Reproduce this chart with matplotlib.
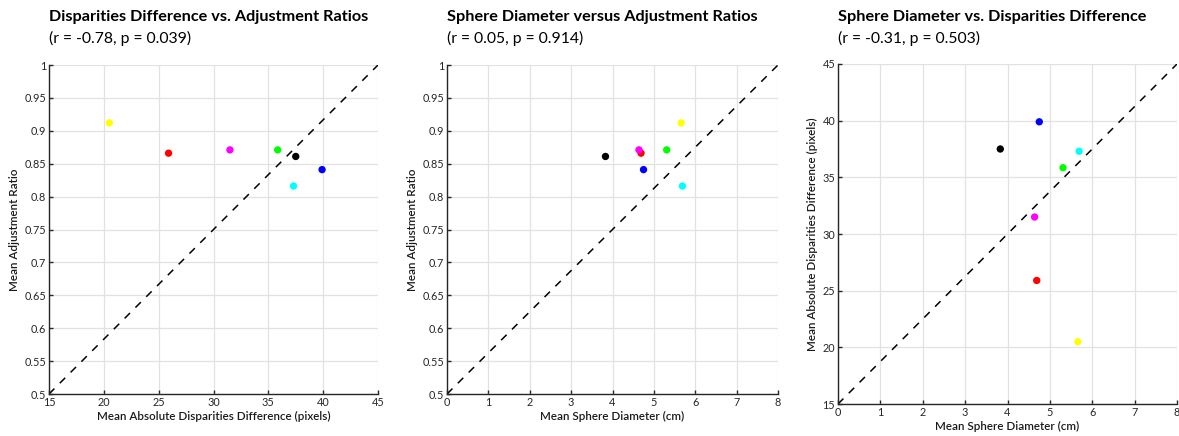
import matplotlib
matplotlib.use("Agg")
import matplotlib.pyplot as plt
from matplotlib import ticker

plt.rcParams['font.family'] = ['Lato', 'DejaVu Sans']

# per-participant colours and values
colors = ["yellow", "red", "magenta", "lime", "black", "cyan", "blue"]
disparity_diff = [20.5, 25.9, 31.5, 35.85, 37.5, 37.3, 39.9]
adjust_ratio = [0.912, 0.866, 0.871, 0.871, 0.861, 0.816, 0.841]
sphere_diam = [5.66, 4.69, 4.64, 5.31, 3.83, 5.69, 4.75]

titles = [
    ("Disparities Difference vs. Adjustment Ratios", "(r = -0.78, p = 0.039)"),
    ("Sphere Diameter versus Adjustment Ratios", "(r = 0.05, p = 0.914)"),
    ("Sphere Diameter vs. Disparities Difference", "(r = -0.31, p = 0.503)"),
]

W, H = 1179, 436
fig = plt.figure(figsize=(W / 100, H / 100), dpi=100)


def px_axes(left, right, top, bottom):
    return fig.add_axes([left / W, (H - bottom) / H, (right - left) / W, (bottom - top) / H])


def style(ax, xlim, ylim, xstep, ystep, xlabel, ylabel, yfmt=None):
    ax.set_xlim(*xlim)
    ax.set_ylim(*ylim)
    ax.xaxis.set_major_locator(ticker.MultipleLocator(xstep))
    ax.yaxis.set_major_locator(ticker.MultipleLocator(ystep))
    if yfmt is not None:
        ax.yaxis.set_major_formatter(ticker.FuncFormatter(yfmt))
    ax.grid(True, color="#e2e2e2", linewidth=0.9)
    ax.set_axisbelow(True)
    for s in ["top", "right"]:
        ax.spines[s].set_visible(False)
    for s in ["left", "bottom"]:
        ax.spines[s].set_color("#262626")
        ax.spines[s].set_linewidth(1.0)
    ax.tick_params(direction="in", length=3, width=1.0, labelsize=7.8,
                   colors="#262626", pad=2)
    ax.set_xlabel(xlabel, fontsize=8.4, color="#1a1a1a", labelpad=2, fontweight="semibold")
    ax.set_ylabel(ylabel, fontsize=8.4, color="#1a1a1a", labelpad=3, fontweight="semibold")
    # identity line across the axes box
    ax.plot(xlim, ylim, linestyle=(0, (5, 5)), color="black", linewidth=1.1, zorder=1)


def ratio_fmt(v, pos):
    return ("%.2f" % v).rstrip("0").rstrip(".")


# panel 1
ax1 = px_axes(49, 378, 65, 394)
style(ax1, (15, 45), (0.5, 1), 5, 0.05,
      "Mean Absolute Disparities Difference (pixels)", "Mean Adjustment Ratio", ratio_fmt)
ax1.scatter(disparity_diff, adjust_ratio, c=colors, s=28, zorder=3, edgecolors="none")

# panel 2
ax2 = px_axes(447, 778, 65, 394)
style(ax2, (0, 8), (0.5, 1), 1, 0.05,
      "Mean Sphere Diameter (cm)", "Mean Adjustment Ratio", ratio_fmt)
ax2.scatter(sphere_diam, adjust_ratio, c=colors, s=28, zorder=3, edgecolors="none")

# panel 3
ax3 = px_axes(838, 1177, 64, 404)
style(ax3, (0, 8), (15, 45), 1, 5,
      "Mean Sphere Diameter (cm)", "Mean Absolute Disparities Difference (pixels)")
ax3.scatter(sphere_diam, disparity_diff, c=colors, s=28, zorder=3, edgecolors="none")

for ax, (t1, t2) in zip([ax1, ax2, ax3], titles):
    left = ax.get_position().x0
    fig.text(left, 1 - 17 / H, t1, fontsize=11.7, fontweight="bold", va="center", ha="left")
    fig.text(left, 1 - 38 / H, t2, fontsize=11.3, va="center", ha="left")

fig.savefig("out.png", dpi=100)
